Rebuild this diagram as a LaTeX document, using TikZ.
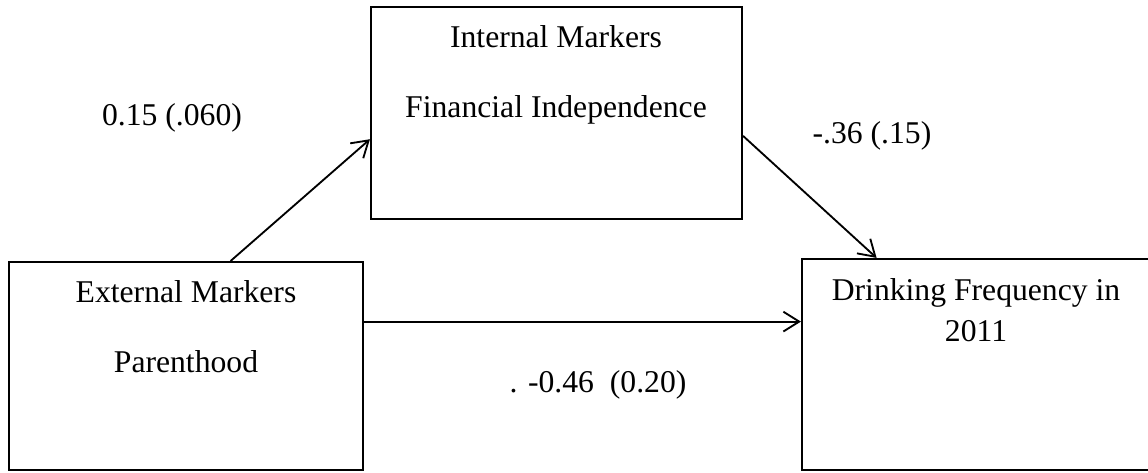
\documentclass[tikz,border=0pt]{standalone}
\usepackage{fontspec}
\setmainfont{Liberation Serif}
\usetikzlibrary{positioning,arrows.meta}

\begin{document}
\begin{tikzpicture}[x=0.379pt,y=-0.379pt,
		box/.style={draw,line width=0.8pt,inner sep=0pt},
		txt/.style={font=\fontsize{12}{14}\selectfont,anchor=base,inner sep=0pt},
		path/.style={draw,line width=0.7pt,-{Straight Barb[length=6pt,width=7.5pt]}}]
	\useasboundingbox (0,0) rectangle (1148,472);
	% boxes
	\node[box,minimum width=134.2pt,minimum height=78.8pt] (ext) at (186,366) {};
	\node[box,minimum width=140.6pt,minimum height=80.3pt] (int) at (556.5,113) {};
	\node[box,minimum width=131.9pt,minimum height=80pt] (dep) at (976,364.5) {};
	% box texts
	\node[txt] (intA) at (556,47) {Internal Markers};
	\node[txt] (intB) at (556,117) {Financial Independence};
	\node[txt] (extA) at (186,302) {External Markers};
	\node[txt] (extB) at (186,372) {Parenthood};
	\node[txt] (depA) at (976,300) {Drinking Frequency in};
	\node[txt] (depB) at (976,341) {2011};
	% coefficients
	\node[txt] (a) at (172,125) {0.15 (.060)};
	\node[txt] (b) at (872,143) {-.36 (.15)};
	\node[txt] (c) at (598,392) {. -0.46~ (0.20)};
	% paths
	\draw[path] (ext.67) -- (int.188);
	\draw[path] (int.-7.7) -- (dep.133);
	\draw[path] (ext.14) -- (ext.14 -| dep.west);
\end{tikzpicture}
\end{document}
